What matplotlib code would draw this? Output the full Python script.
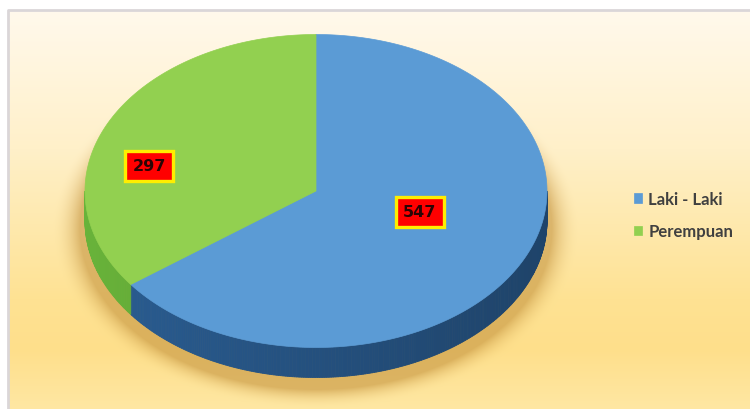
import numpy as np
import matplotlib
matplotlib.use("Agg")
import matplotlib.pyplot as plt
from matplotlib.patches import Polygon
from matplotlib.colors import to_rgb
import matplotlib.patheffects as pe

# Data
categories = ["Laki - Laki", "Perempuan"]
values = [547, 297]
top_colors = ["#5B9BD5", "#92D050"]
side_colors = ["#24507E", "#5A9A32"]

W, H = 750, 410
fig = plt.figure(figsize=(7.5, 4.1), dpi=100)
ax = fig.add_axes([0, 0, 1, 1])
ax.set_xlim(0, W)
ax.set_ylim(H, 0)
ax.axis("off")

# Pie geometry (screen pixels, y downward)
cx, cy = 316.0, 192.0
ra, rb = 231.0, 156.5
depth = 30.0

# ---- background: chart-area gradient with a soft shadow under the pie ----
fx0, fy0 = 8, 11
ys = np.arange(H) + 0.5
xs = np.arange(W) + 0.5
stops_y = [11, 150, 300, 350, 410]
stops_c = np.array([to_rgb(c) for c in
                    ["#FFF9EC", "#FFF0C9", "#FEE293", "#FEDF8B", "#FEE7A3"]])
grad = np.stack([np.interp(ys, stops_y, stops_c[:, k]) for k in range(3)], axis=1)
img = np.ones((H, W, 3))
img[:, :, :] = grad[:, None, :]

X, Y = np.meshgrid(xs, ys)
r = np.sqrt(((X - cx) / (ra + 5)) ** 2 + ((Y - (cy + depth + 7)) / (rb + 5)) ** 2)
d = np.clip((r - 1.0) / 0.12, 0, 1)
alpha = 0.55 * (1 - d) ** 2
shadow = np.array(to_rgb("#BF8C36"))
img = img * (1 - alpha[..., None]) + shadow * alpha[..., None]

# white margin outside the chart frame
img[:fy0, :, :] = 1.0
img[:, :fx0, :] = 1.0
ax.imshow(img, extent=(0, W, H, 0), interpolation="bilinear", zorder=0)
ax.plot([fx0, fx0, W], [H, fy0, fy0], color="#DAD6D8", lw=2.0, zorder=1)


def pt(phi, dy=0.0):
    """Point on the pie rim; phi measured clockwise from 12 o'clock."""
    return cx + ra * np.sin(phi), cy - rb * np.cos(phi) + dy


total = float(sum(values))
bounds = np.concatenate([[0.0], np.cumsum(values) / total]) * 2 * np.pi

# ---- side walls (front half only) ----
for i in range(len(values)):
    a0, a1 = bounds[i], bounds[i + 1]
    lo, hi = max(a0, np.pi / 2), min(a1, 3 * np.pi / 2)
    if hi <= lo:
        continue
    ph = np.linspace(lo, hi, int((hi - lo) / 0.01) + 2)
    base = np.array(to_rgb(side_colors[i]))
    for p0, p1 in zip(ph[:-1], ph[1:]):
        f = 1.0 + 0.16 * (-np.sin(0.5 * (p0 + p1)))
        col = np.clip(base * f, 0, 1)
        x0, y0 = pt(p0)
        x1, y1 = pt(p1)
        quad = [(x0, y0), (x1, y1), (x1, y1 + depth), (x0, y0 + depth)]
        ax.add_patch(Polygon(quad, closed=True, fc=col, ec=col, lw=0.6, zorder=2))

# ---- top faces ----
handles = []
for i in range(len(values)):
    a0, a1 = bounds[i], bounds[i + 1]
    ph = np.linspace(a0, a1, 200)
    xy = [(cx, cy)] + [pt(p) for p in ph]
    poly = Polygon(xy, closed=True, fc=top_colors[i], ec=top_colors[i], lw=0.5,
                   zorder=3, label=categories[i])
    ax.add_patch(poly)
    handles.append(poly)

# ---- value labels ----
label_pos = [(420, 213), (149, 167)]
for v, (lx, ly) in zip(values, label_pos):
    t = ax.text(lx, ly, f"{v}", ha="center", va="center", fontsize=11.5,
                fontweight="bold", color="#2A0505", family="DejaVu Sans", zorder=5,
                bbox=dict(boxstyle="square,pad=0.48", fc="#FF0000", ec="#FFEE00", lw=2.4))
    t.get_bbox_patch().set_path_effects(
        [pe.SimplePatchShadow(offset=(1.5, -1.5), alpha=0.35), pe.Normal()])

# ---- legend ----
leg = ax.legend(handles=handles, labels=categories, loc="center left",
                bbox_to_anchor=(634 / W, 1 - 216 / H), frameon=False,
                handlelength=0.5, handleheight=0.5, handletextpad=0.35,
                labelspacing=1.0, borderpad=0, borderaxespad=0,
                prop=dict(family="Lato", weight="bold", size=12))
for txt in leg.get_texts():
    txt.set_color("#404040")

fig.savefig("out.png", dpi=100)
